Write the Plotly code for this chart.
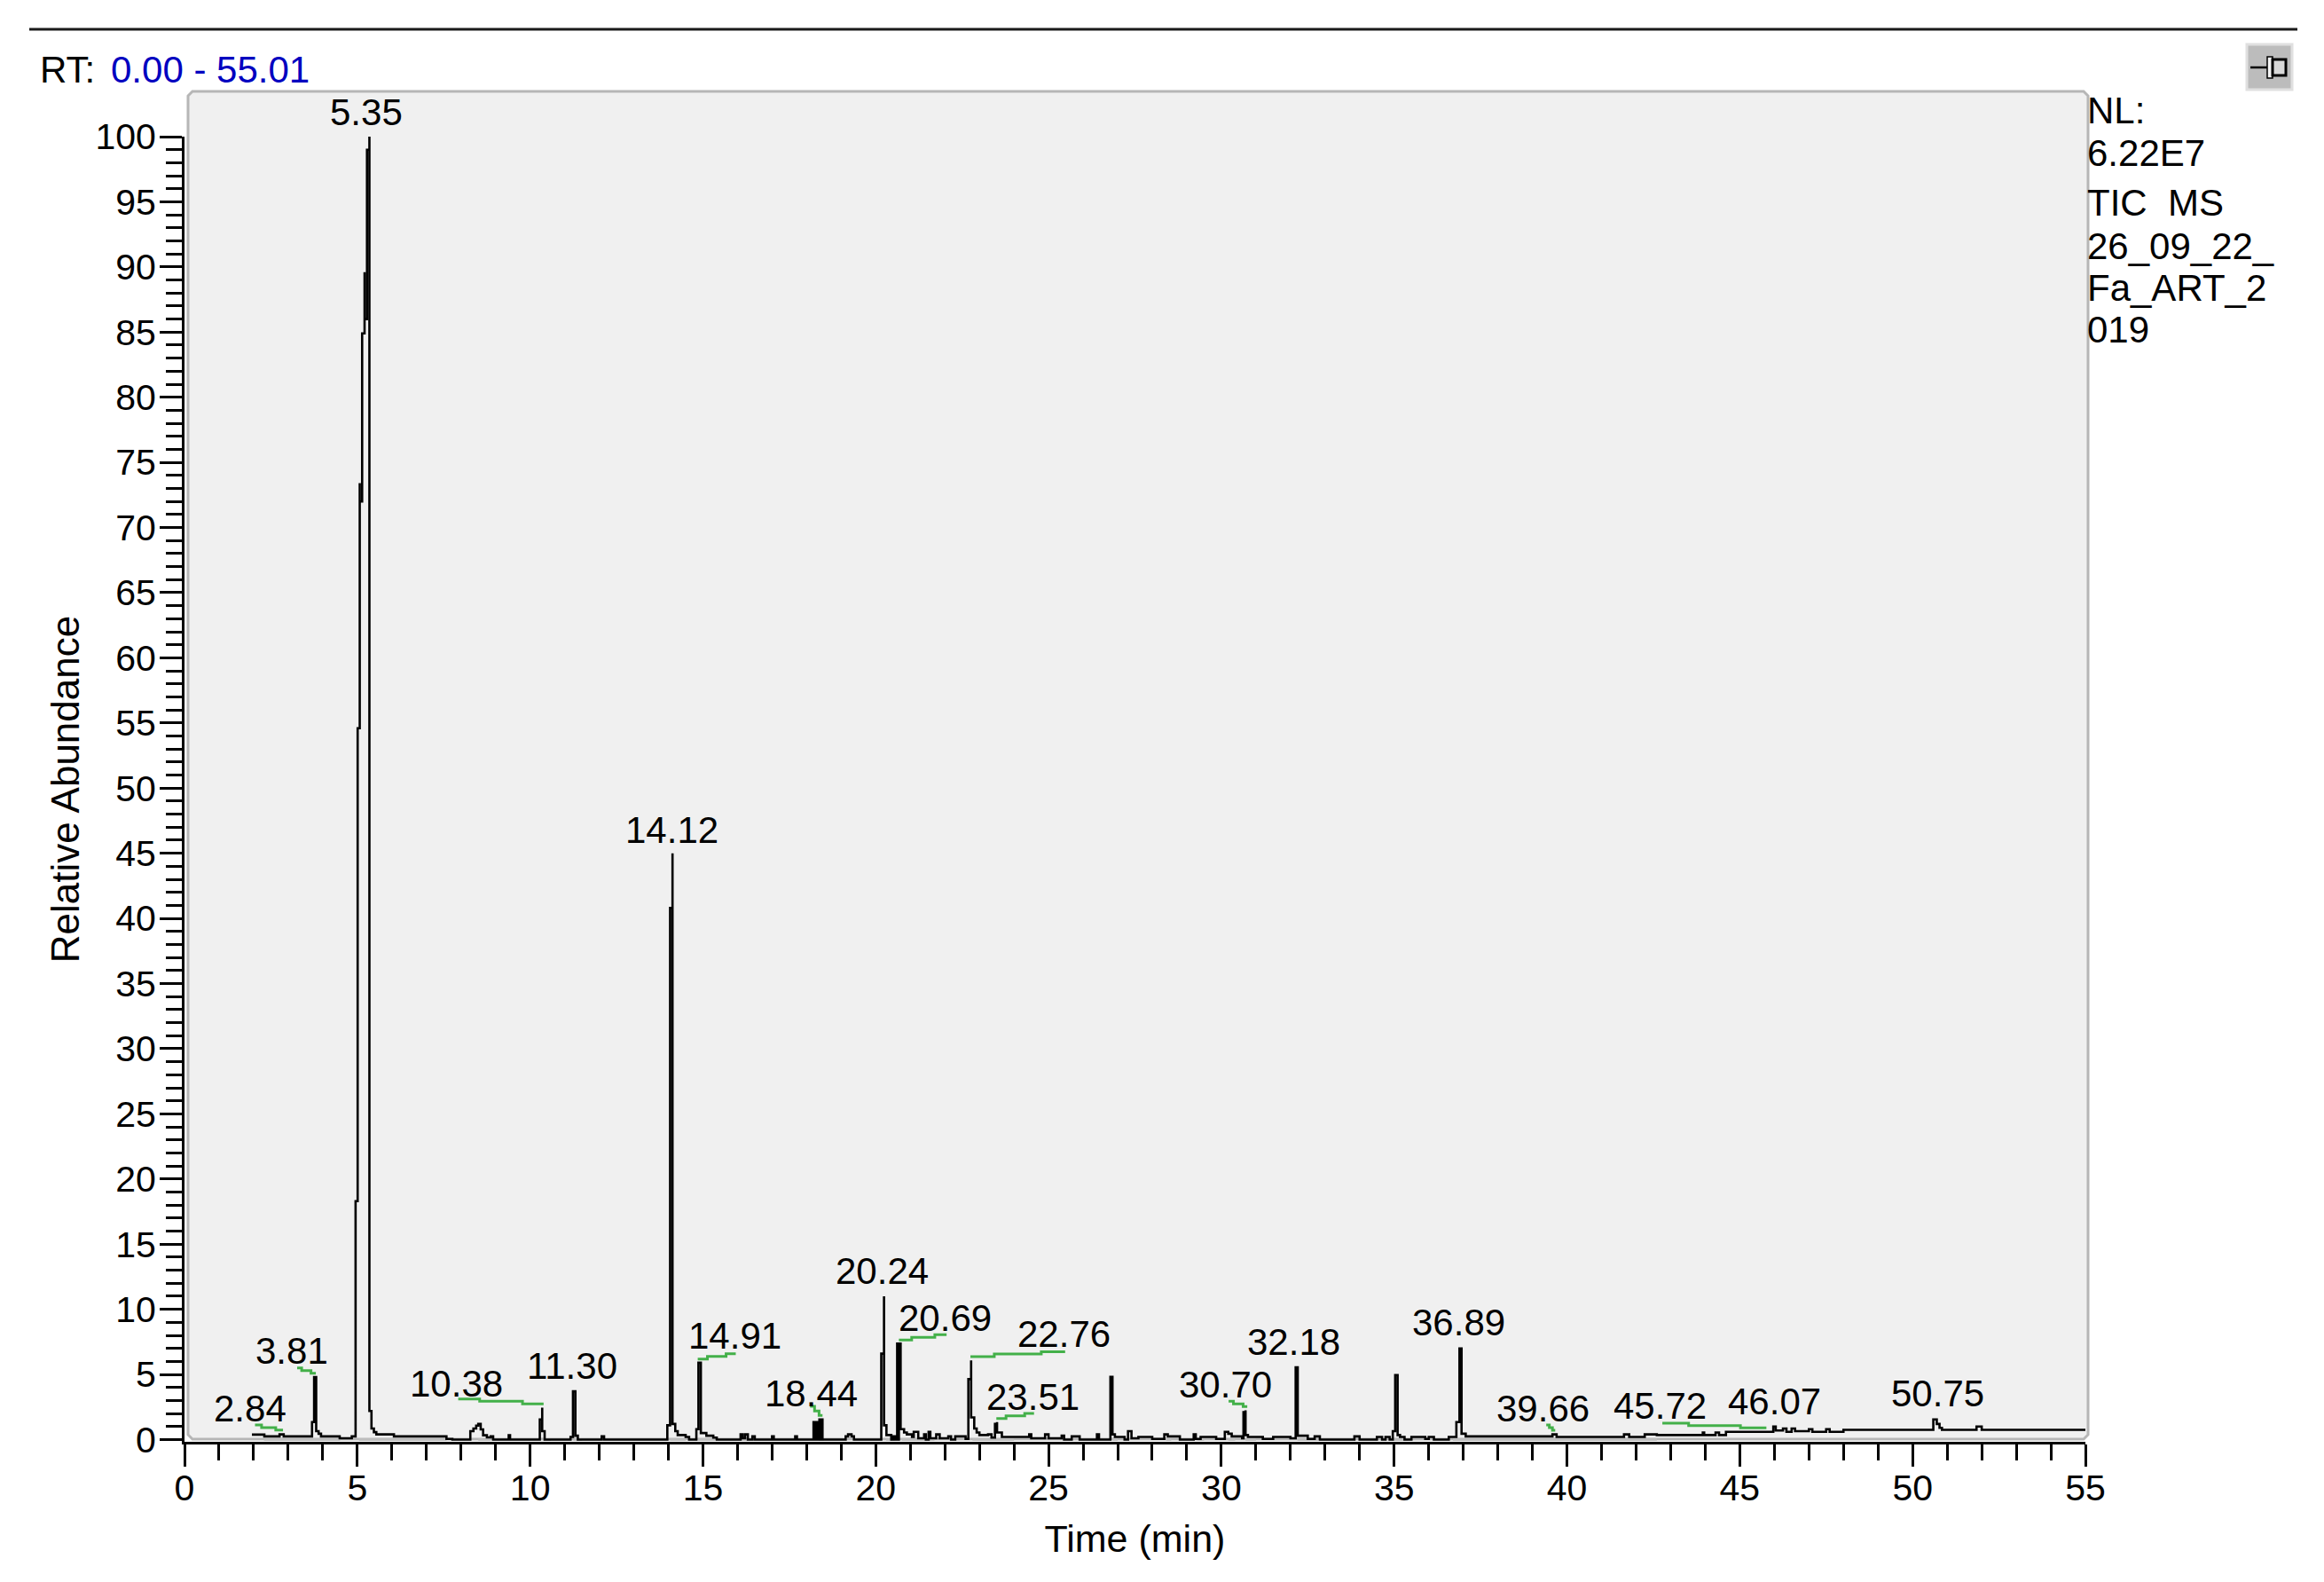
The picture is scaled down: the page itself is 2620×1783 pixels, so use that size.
import plotly.graph_objects as go

# ---- chromatogram (retention time, relative abundance)
t_part1 = [1.95,2.31,2.75,2.87,3.69,3.75,3.81,3.81,3.88,3.95,4.49,4.84,4.95,5.01,5.07,5.07,5.14,5.21,5.21,5.28,5.35,5.35,5.41,5.48,5.55,6.06,7.58,7.75]
y_part1 = [0.38,0.25,0.4,0.25,1.35,4.8,4.25,0.65,0.45,0.25,0.1,0.25,18.3,54.6,73.4,72,84.9,89.6,86,99,100,2.2,0.85,0.57,0.4,0.25,0.05,0]
t_part2 = [8.27,8.36,8.44,8.50,8.57,8.64,8.75,8.86,8.93,9.38,9.42,10.28,10.35,10.35,10.42,10.42,11.17,11.24,11.31,11.31,11.38,12.07,12.14,13.97,14.05,14.12,14.12,14.2,14.27,14.5,14.6]
y_part2 = [0.65,0.85,1.07,1.2,0.78,0.33,0.17,0.25,0,0.33,0,1.55,2.45,0.65,0.65,0,0.2,3.7,3.4,0.3,0,0.25,0,1.1,40.8,45,1.2,0.65,0.35,0.2,0]
t_part3 = [14.81,14.87,14.94,14.94,15.1,15.3,15.4,16.09,16.15,16.22,16.3,16.43,16.5,17.0,17.05,17.67,17.72,18.2,18.23,18.24,18.27,18.28,18.31,18.32,18.36,18.37,18.41,18.42,18.46,19.13,19.2,19.3,19.37]
y_part3 = [0.8,5.9,4.9,0.5,0.3,0.15,0,0.4,0.1,0.4,0,0.25,0,0.25,0,0.25,0,1.35,0,1.35,0,1.35,0,1.1,0,1.55,0,1.55,0,0.25,0.4,0.25,0]
t_part4 = [20.16,20.24,20.24,20.31,20.45,20.5,20.56,20.62,20.66,20.67,20.72,20.82,20.9,21.05,21.1,21.23,21.4,21.45,21.53,21.58,21.75,21.85,22.1,22.18,22.3,22.6,22.68,22.76,22.76,22.85,22.92,23.0,23.25,23.35,23.45,23.51,23.51,23.65]
y_part4 = [6.6,11.0,1.1,0.35,0,0.25,0,7.36,0,7.36,0.8,0.55,0.4,0.2,0.6,0.1,0.4,0,0.6,0.1,0.4,0.1,0.25,0,0.25,0.05,4.64,6.07,1.7,0.85,0.55,0.35,0.4,0.15,1.2,1.35,0.55,0.2]
t_part5 = [24.44,24.5,24.9,25.0,25.38,25.45,25.67,25.9,26.4,26.46,26.79,26.85,26.85,26.92,27.2,27.3,27.4,27.6,28.0,28.35,28.45,28.8,29.2,29.26,29.4,29.85,30.1,30.2,30.3,30.6,30.64,30.70,30.70,30.77,31.2,31.5,32.0]
y_part5 = [0.4,0.1,0.4,0.1,0.3,0,0.25,0,0.4,0,4.82,3.57,0.4,0.2,0,0.65,0.1,0.2,0.05,0.4,0.25,0,0.4,0.05,0.2,0.05,0.6,0.45,0.25,0.1,2.1,2.25,0.35,0.2,0.05,0.2,0.1]
t_part6 = [32.15,32.21,32.21,32.5,32.7,32.85,33.85,34.0,34.5,34.65,34.75,34.87,34.96,35.03,35.1,35.1,35.17,35.3,35.5,35.9,36.0,36.15,36.58,36.8,36.89,36.95,36.95,37.07,39.58,39.7,41.65,41.8,42.25]
y_part6 = [5.55,4.1,0.3,0.05,0.25,0,0.25,0,0.2,0,0.2,0,0.65,4.95,3.0,0.35,0.2,0,0.2,0.05,0.2,0,0.2,1.35,7.0,4.44,0.45,0.25,0.4,0.2,0.4,0.2,0.4]
t_part7 = [42.6,43.93,43.97,44.3,44.4,44.6,45.97,46.04,46.25,46.35,46.5,46.6,47.0,47.1,47.5,47.6,48.0,50.6,50.7,50.78,50.85,51.85,52.0,55.05]
y_part7 = [0.35,0.55,0.35,0.55,0.35,0.6,1.0,0.7,0.85,0.6,0.85,0.65,0.8,0.6,0.8,0.6,0.75,1.55,1.2,0.9,0.75,1.0,0.75,0.75]

time_min = t_part1 + t_part2 + t_part3 + t_part4 + t_part5 + t_part6 + t_part7
rel_abundance = y_part1 + y_part2 + y_part3 + y_part4 + y_part5 + y_part6 + y_part7

# grey integration baseline under the trace
base_t = [2.3,4.5,None,5.05,7.58,None,8.5,8.85,None,10.38,10.6,None,11.25,11.5,None,14.05,14.5,None,14.85,15.35,None,16.12,16.3,None,18.35,18.5,None,
          20.3,20.55,None,20.75,21.7,None,22.8,24.0,None,26.85,27.0,None,28.4,28.55,None,29.3,29.5,None,30.2,30.4,None,30.7,31.0,None,32.2,32.8,None,34.95,35.4,None,36.7,42.6]
base_y = [0,0,None,0,0,None,0,0,None,0,0,None,0,0,None,0,0,None,0,0,None,0,0,None,0,0,None,
          0,0,None,0,0,None,0,0,None,0,0,None,0,0,None,0,0,None,0,0,None,0,0,None,0,0,None,0,0,None,0,0]

# peak labels
label_text = ["14.12","20.24","36.89","32.18","22.76","20.69","14.91","11.30","10.38","3.81","2.84","18.44","23.51","30.70","39.66","45.72","46.07","50.75"]
label_t = [14.09,20.18,36.86,32.10,25.45,22.02,15.93,11.22,7.87,3.11,1.91,18.12,24.55,30.13,39.31,42.70,46.0,50.72]
label_y = [46.75,12.97,8.99,7.51,8.08,9.33,7.96,5.68,4.32,6.82,2.39,3.53,3.30,4.21,2.39,2.61,2.96,3.53]
top_label = "5.35"
top_label_t = 5.25

# green label connectors
conn_t = [2.04,2.23,2.64,2.85,None,3.26,3.39,3.66,3.80,None,7.92,8.54,9.78,10.39,None,14.85,15.13,15.67,15.95,None,18.10,18.23,18.36,18.46,None,
          20.67,21.04,21.71,22.05,None,22.74,23.43,24.79,25.48,None,23.49,23.77,24.31,24.58,None,30.21,30.35,30.63,30.75,None,39.40,39.49,39.58,39.66,None,42.76,43.52,45.02,45.77]
conn_y = [1.12,0.92,0.74,0.74,None,5.50,5.30,5.09,5.09,None,3.12,2.94,2.74,2.74,None,6.18,6.39,6.59,6.59,None,2.55,2.19,1.85,1.85,None,
          7.64,7.84,8.05,8.05,None,6.36,6.57,6.75,6.75,None,1.62,1.82,2.01,2.01,None,2.94,2.74,2.53,2.53,None,1.12,0.92,0.71,0.71,None,1.26,1.08,0.90,0.90]

x_ticks = list(range(0, 56, 5))
y_ticks = list(range(0, 101, 5))
info_lines = ["NL:", "6.22E7", "TIC  MS", "26_09_22_", "Fa_ART_2", "019"]
info_px_y = [124, 172, 228, 277, 324, 372]

FONT = "Liberation Sans"
FS = 41
FS_TEXT = 42
W, H = 2620, 1783
L, R, T, B = 208, 2351, 154, 1625


def px(x):
    return (x - L) / (R - L)


def py(y):
    return (B - y) / (B - T)


fig = go.Figure()
fig.add_trace(go.Scatter(x=base_t, y=base_y, mode="lines", line=dict(color="#bdbdbd", width=3), hoverinfo="skip", cliponaxis=False))
fig.add_trace(go.Scatter(x=time_min, y=rel_abundance, mode="lines", line=dict(color="#000000", width=2.6, shape="hv"), cliponaxis=False))
fig.add_trace(go.Scatter(x=conn_t, y=conn_y, mode="lines", line=dict(color="#43b049", width=3, shape="hv"), hoverinfo="skip"))

black_text = dict(family=FONT, size=FS_TEXT, color="#000000")
ann = [dict(x=a, y=b, text=c, xref="x", yref="y", showarrow=False, xanchor="center", yanchor="middle",
            font=black_text) for a, b, c in zip(label_t, label_y, label_text)]
ann.append(dict(x=top_label_t, y=100, yshift=28, text=top_label, xref="x", yref="y", showarrow=False,
                xanchor="center", yanchor="middle", font=black_text))
ann.append(dict(x=px(43), y=py(78), xref="paper", yref="paper", showarrow=False, xanchor="left", yanchor="middle",
                text="RT:", font=black_text))
ann.append(dict(x=px(123), y=py(78), xref="paper", yref="paper", showarrow=False, xanchor="left", yanchor="middle",
                text="0.00 - 55.01", font=dict(family=FONT, size=FS_TEXT, color="#0000c0")))
for line, yy in zip(info_lines, info_px_y):
    ann.append(dict(x=px(2351), y=py(yy), xref="paper", yref="paper", showarrow=False, xanchor="left", yanchor="middle",
                    text=line, font=black_text))

shapes = [
    # grey plot panel with chamfered corners
    dict(type="path", xref="paper", yref="paper", layer="below",
         path=f"M {px(212)} {py(108)} L {px(217)} {py(103)} L {px(2349)} {py(103)} L {px(2354)} {py(108)} "
              f"L {px(2354)} {py(1617)} L {px(2349)} {py(1622)} L {px(217)} {py(1622)} L {px(212)} {py(1617)} Z",
         line=dict(color="#b6b6b6", width=3), fillcolor="#f0f0f0"),
    # top rule
    dict(type="line", xref="paper", yref="paper", x0=px(33), x1=px(2590), y0=py(33), y1=py(33), line=dict(color="#1a1a1a", width=3)),
    # pin button
    dict(type="rect", xref="paper", yref="paper", x0=px(2533), x1=px(2584), y0=py(50), y1=py(101), line=dict(color="#e0e0e0", width=3), fillcolor="#bcbcbc"),
    dict(type="line", xref="paper", yref="paper", x0=px(2537), x1=px(2556), y0=py(76), y1=py(76), line=dict(color="#000000", width=2.5)),
    dict(type="rect", xref="paper", yref="paper", x0=px(2556), x1=px(2562), y0=py(64), y1=py(88), line=dict(color="#000000", width=1.5), fillcolor="#f4f4f4"),
    dict(type="rect", xref="paper", yref="paper", x0=px(2562), x1=px(2577), y0=py(67), y1=py(85), line=dict(color="#000000", width=3), fillcolor="#d8d8d8"),
]

axis_common = dict(showgrid=False, zeroline=False, showline=True, linecolor="#000000", linewidth=3,
                   ticks="outside", ticklen=25, tickwidth=2.6, tickcolor="#000000",
                   tickfont=dict(family=FONT, size=FS, color="#000000"))

fig.update_layout(
    width=W, height=H, autosize=False, showlegend=False,
    paper_bgcolor="#ffffff", plot_bgcolor="rgba(0,0,0,0)",
    margin=dict(l=L, r=W - R, t=T, b=H - B, pad=0),
    font=dict(family=FONT, size=FS, color="#000000"),
    annotations=ann, shapes=shapes,
    xaxis=dict(range=[0, 55], tickvals=x_ticks, ticktext=[str(v) for v in x_ticks], ticklabelstandoff=-11,
               minor=dict(dtick=1, tick0=0, ticks="outside", ticklen=18, tickwidth=2.6, tickcolor="#000000", showgrid=False),
               title=dict(text="Time (min)", font=dict(family=FONT, size=43), standoff=20), **axis_common),
    yaxis=dict(range=[-0.17, 100], tickvals=y_ticks, ticktext=[str(v) for v in y_ticks], ticklabelstandoff=-4,
               minor=dict(dtick=1, tick0=0, ticks="outside", ticklen=18, tickwidth=2.6, tickcolor="#000000", showgrid=False),
               title=dict(text="Relative Abundance", font=dict(family=FONT, size=44), standoff=4), **axis_common),
)

assert len(time_min) == len(rel_abundance) and len(conn_t) == len(conn_y) and len(base_t) == len(base_y)
fig.write_html("out.html", config=dict(displayModeBar=False),
               post_script="document.body.style.margin='0';document.body.style.overflow='hidden';")
